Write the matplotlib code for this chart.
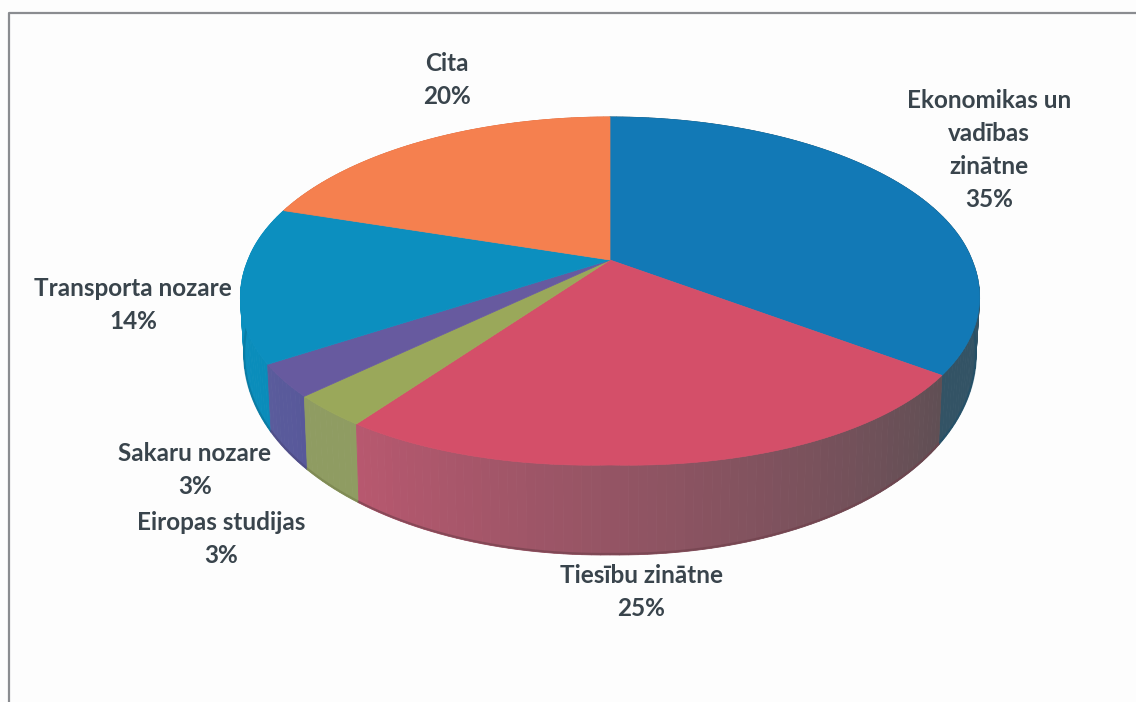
import numpy as np
import matplotlib
matplotlib.use('Agg')
import matplotlib.pyplot as plt

# dati
nozares = ['Ekonomikas un\nvadības\nzinātne', 'Tiesību zinātne', 'Eiropas studijas',
           'Sakaru nozare', 'Transporta nozare', 'Cita']
procenti = [35, 25, 3, 3, 14, 20]

# krasas: virsma, sans sakums, sans beigas
krasa_virsa = ['#1279b6', '#d44f69', '#9aa85a', '#675a9f', '#0c8fbf', '#f5804f']
krasa_sans1 = ['#2f5566', '#5f4f54', '#8f9c62', '#58589a', '#0a8cba', '#d96f45']
krasa_sans2 = ['#335365', '#b8586f', '#8f9c62', '#5a5c9c', '#0a93c2', '#d96f45']

# uzrakstu vietas pikselos
uzraksti_xy = [(989, 150), (641, 592), (221, 539), (195, 470), (133, 305), (447, 80)]

# perspektivas parametri
cx, cy = 610, 260
b, a, k = 362, 168.5, 0.178
sx, sy, dy = 0.99, 1.19, 51


def punkts(t, apaksa=False):
    u, v = np.sin(t), np.cos(t)
    d = 1 + k * v
    # apakseja mala nedaudz platak nekä tira elipse
    lab = 1 + 0.025 * np.maximum(-v, 0)
    pie = np.abs(u * v) * (v < 0)
    if apaksa:
        return cx + sx * b * u * lab / d, cy + dy - sy * a * v / d + 5 * pie
    return cx + b * u * lab / d, cy - a * v / d + 10 * pie


def hex2rgb(c):
    return np.array(matplotlib.colors.to_rgb(c))


fig = plt.figure(figsize=(11.36, 7.02), dpi=100, facecolor='#fdfdfd')
ax = fig.add_axes([0, 0, 1, 1])
ax.set_xlim(0, 1136)
ax.set_ylim(702, 0)
ax.axis('off')

# ramis
ax.plot([9, 9, 1136], [702, 13, 13], color='#8a8c90', lw=1.6)

robezas = np.radians(np.cumsum([0] + procenti) * 3.6)

# sani no aizmugures uz prieksu
for i in np.argsort(-np.cos((robezas[:-1] + robezas[1:]) / 2)):
    n = max(int(procenti[i] * 3), 6)
    tt = np.linspace(robezas[i], robezas[i + 1], n + 1)
    c1, c2 = hex2rgb(krasa_sans1[i]), hex2rgb(krasa_sans2[i])
    for j in range(n):
        x1, y1 = punkts(tt[j])
        x2, y2 = punkts(tt[j + 1])
        x3, y3 = punkts(tt[j + 1], True)
        x4, y4 = punkts(tt[j], True)
        c = c1 + (c2 - c1) * (j + 0.5) / n
        ax.fill([x1, x2, x3, x4], [y1, y2, y3, y4], color=c, lw=0.6)
    # tumsaka apakseja mala, zem virsmas
    xa, ya = punkts(tt, True)
    ax.plot(xa, ya - 1, color=c1 * 0.5 + hex2rgb(krasa_virsa[i]) * 0.3, lw=1.6, alpha=0.6, zorder=1)

# virsmas sektori
for i in range(len(procenti)):
    tt = np.linspace(robezas[i], robezas[i + 1], 150)
    x, y = punkts(tt)
    ax.fill(np.r_[cx, x], np.r_[cy, y], color=krasa_virsa[i], lw=0.5)

# uzraksti
for nos, p, (x, y) in zip(nozares, procenti, uzraksti_xy):
    ax.text(x, y, f'{nos}\n{p}%', ha='center', va='center', multialignment='center',
            fontsize=17.5, fontweight='bold', family='Lato', color='#39444c', linespacing=1.53)

fig.savefig('out.png', dpi=100, facecolor=fig.get_facecolor())
